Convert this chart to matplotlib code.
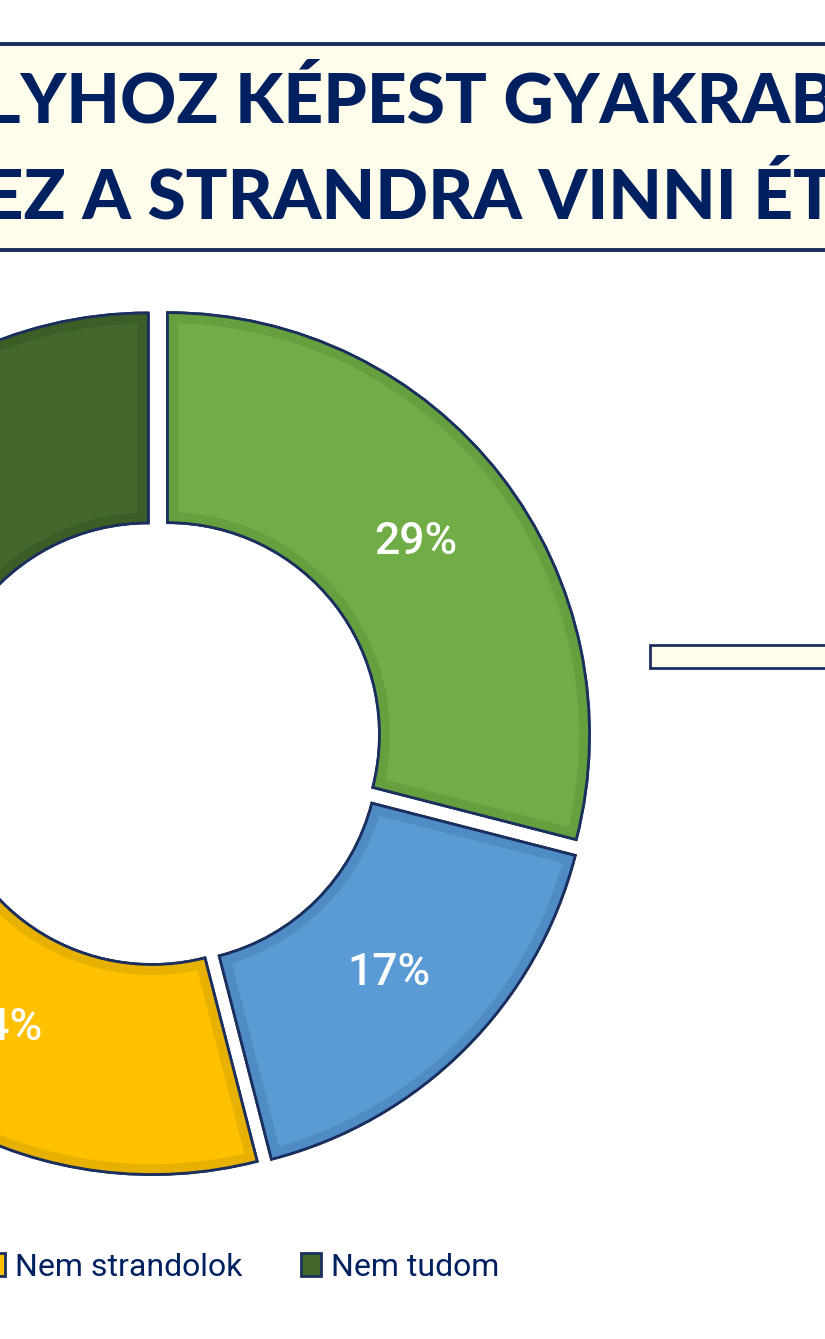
import matplotlib
matplotlib.use('Agg')
import matplotlib.pyplot as plt
import matplotlib.patches as mpatches

# answers, clockwise from the top
labels = ['Igen', 'Nem', 'Nem strandolok', 'Nem tudom']
values = [29, 17, 24, 30]
colors = ['#70AD47', '#5B9BD5', '#FFC000', '#43682B']
band_colors = ['#66A03E', '#4F8BC4', '#E6B100', '#3C5E26']

title_lines = ['A TAVALYHOZ KÉPEST GYAKRABBAN', 'TERVEZ A STRANDRA VINNI ÉTELT?']
hidden_prefix = ['A TAVA', 'TERV']   # part of each line that falls left of the crop

NAVY = '#1B2F5E'
TEXT = '#002060'

W, H = 825, 1339
fig = plt.figure(figsize=(W / 100, H / 100), dpi=100)
fig.patch.set_facecolor('white')
ax = fig.add_axes([0, 0, 1, 1])

cx, cy = 158, H - 742
R, ring = 422, 210

wedges, texts, autotexts = ax.pie(
    values, colors=colors, startangle=90, counterclock=False,
    center=(cx, cy), radius=R, explode=[12] * len(values),
    autopct='%d%%', pctdistance=0.745,
    wedgeprops=dict(width=ring, edgecolor=NAVY, linewidth=2.0),
    textprops=dict(color='white', fontsize=32, family='Roboto', fontweight='medium'),
)

# darker inner rim + navy outline on every wedge
for w, bc in zip(wedges, band_colors):
    band = mpatches.Wedge(w.center, w.r, w.theta1, w.theta2, width=w.width,
                          facecolor='none', edgecolor=bc, linewidth=15)
    ax.add_patch(band)
    band.set_clip_path(w)
    edge = mpatches.Wedge(w.center, w.r, w.theta1, w.theta2, width=w.width,
                          facecolor='none', edgecolor=NAVY, linewidth=2.0)
    ax.add_patch(edge)
for t in autotexts:
    t.set_zorder(5)

ax.set_xlim(0, W)
ax.set_ylim(0, H)
ax.axis('off')

# title box
ax.add_patch(mpatches.Rectangle((-10, H - 250), W + 20, 206, facecolor='#FEFCEB',
                                edgecolor=NAVY, linewidth=2.8, clip_on=False))
# little box on the right
ax.add_patch(mpatches.Rectangle((650, H - 668), 200, 23, facecolor='#FEFCEB',
                                edgecolor=NAVY, linewidth=2.0, clip_on=False))

title_kw = dict(fontsize=50, family='Lato', fontweight='black', color=TEXT)
fig.canvas.draw()
renderer = fig.canvas.get_renderer()
for line, prefix, x_vis, y in zip(title_lines, hidden_prefix, [-15, -16], [102, 198]):
    probe = ax.text(0, 0, prefix, **title_kw)
    pw = probe.get_window_extent(renderer).width
    probe.remove()
    ax.text(x_vis - pw, H - y, line, ha='left', va='center', **title_kw)

# legend, right end anchored at the end of "Nem tudom"
ax.legend(wedges, labels, ncol=4, loc='center right',
          bbox_to_anchor=(499, H - 1267), bbox_transform=ax.transData,
          frameon=False, prop=dict(family='Roboto', size=23), labelcolor=TEXT,
          handlelength=0.62, handleheight=0.7, handletextpad=0.3,
          columnspacing=1.85, borderpad=0, borderaxespad=0)

fig.savefig('out.png', dpi=100, facecolor='white')
